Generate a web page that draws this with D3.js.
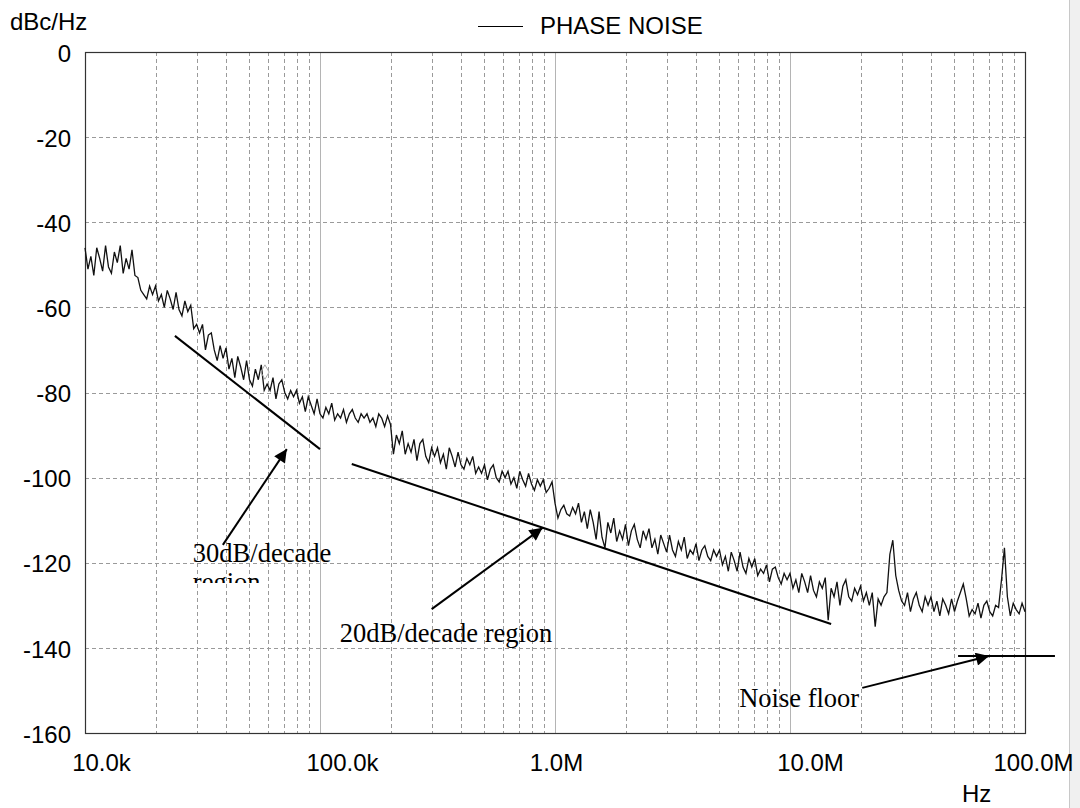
<!DOCTYPE html>
<html>
<head>
<meta charset="utf-8">
<script src="https://cdn.jsdelivr.net/npm/d3@7"></script>
<style>
  body { margin: 0; background: #fff; }
  svg { display: block; }
</style>
</head>
<body>
<div id="chart"></div>
<script>

// chart size and plot box
const width = 1080;
const height = 808;
const margin = {left: 85, right: 54, top: 52, bottom: 75};

// axis ticks
const xTicks = [1e4, 1e5, 1e6, 1e7, 1e8];
const xTickLabels = ["10.0k", "100.0k", "1.0M", "10.0M", "100.0M"];
const yTicks = [0, -20, -40, -60, -80, -100, -120, -140, -160];

// phase noise trace, dBc/Hz, 80 samples per decade starting at 10 kHz
const pointsPerDecade = 80;
const noiseDb = [
  -46, -51, -48, -52.5, -46, -48.5, -51.5, -45.5, -50.5, -52,
  -47, -49.5, -45.5, -52, -48.5, -51, -46.5, -52.5, -53, -56,
  -57, -58, -55, -57, -55, -58.5, -57, -60, -56, -58,
  -60.5, -56.5, -60.5, -62, -58.5, -61, -59.5, -65, -64, -66,
  -64, -70, -66.5, -66, -70, -72.5, -69, -72, -69.5, -74.5,
  -72, -76.5, -71.5, -74, -77, -72.5, -77, -78.5, -74.5, -77,
  -73.5, -79.5, -78, -79.5, -76.5, -81.5, -78, -77, -80, -81.5,
  -79.5, -81, -79.5, -82.5, -81, -84.5, -81, -83, -85, -81.5,
  -85, -86, -83.5, -85, -82.5, -86.5, -85, -86, -84, -87,
  -85, -84, -86, -87, -85, -86, -85, -87, -86, -88,
  -85, -86, -88, -85.5, -87.5, -94.5, -90, -92, -89, -94.5,
  -92, -94, -91, -96, -92, -91, -95, -96.5, -93, -95,
  -93, -96.5, -94.5, -98, -93, -95, -97.5, -94, -97, -98,
  -95.5, -97, -95, -99, -97.5, -99, -97, -100.5, -98, -97,
  -100, -101, -98.5, -100, -98.5, -101.5, -100, -102.5, -98.5, -100.5,
  -102, -99, -101.5, -103, -100.5, -102, -100.5, -103.5, -102.5, -101,
  -106, -109.5, -107.5, -106.5, -108.5, -109, -107, -108.5, -106, -110.5,
  -108, -112, -107.5, -110.5, -114.5, -108, -114, -116.5, -110.5, -113,
  -109.5, -115, -112.5, -114.5, -111, -116, -112.5, -111, -114.5, -116.5,
  -112.5, -114.5, -112, -116.5, -114.5, -118, -113.5, -115.5, -117.5, -113.5,
  -117, -118.5, -115, -117, -114, -119, -117, -118, -115.5, -119.5,
  -117, -116, -118.5, -119.5, -117, -118.5, -117, -120.5, -118.5, -122,
  -117.5, -119.5, -122, -117.5, -121, -122.5, -119, -121, -119, -123,
  -121.5, -122.5, -120.5, -124.5, -121.5, -121, -123.5, -125, -122.5, -124,
  -122.5, -126, -124, -127, -122.5, -124.5, -127, -123, -126.5, -128,
  -124.5, -126, -123.5, -133.5, -126, -128, -124.5, -130, -125.5, -124,
  -128, -129, -126, -127.5, -125.5, -129, -127, -130, -127, -135,
  -128.5, -130, -128, -127, -118, -114.7, -123, -126.5, -129, -130,
  -127, -131.5, -128.5, -127, -130, -131.5, -128, -130, -128, -131.5,
  -129, -132.5, -128.5, -130, -132, -128.5, -131.5, -129, -127, -125,
  -128.5, -132.5, -131, -132, -129.5, -133, -130, -129, -131.5, -132.5,
  -130, -130.5, -124, -116.5, -128, -132.5, -129.5, -131, -132, -129.5,
  -131.5
];

// trace marker (small diamond on the curve)
const markerPoint = {f: 58300, db: -75.2};

// annotation slope lines [f1, db1, f2, db2]
const slopeLines = [
  [24130, -66.7, 1e5, -93.3],
  [136500, -96.8, 14.96e6, -134.4],
  [51.9e6, -141.9, 134.1e6, -141.9]
];

// annotation arrows, tail -> tip
const arrows = [
  [38600, -115.8, 72230, -93.3],
  [298600, -130.9, 885000, -111.8],
  [20.3e6, -149.4, 70.3e6, -141.9]
];

// annotation labels
const notes = [
  {text: "30dB/decade", f: 28770, db: -119.8},
  {text: "region", f: 28770, db: -126.6, clip: true},
  {text: "20dB/decade region", f: 121300, db: -138.6},
  {text: "Noise floor", f: 6.08e6, db: -153.9}
];

const svg = d3
  .select("#chart")
  .append("svg")
  .attr("width", width)
  .attr("height", height);

let xScale = d3.scaleLog()
  .domain([1e4, 1e8])
  .range([margin.left, width - margin.right - 1]);

let yScale = d3.scaleLinear()
  .domain([-160, 0])
  .range([height - margin.bottom, margin.top]);

const x0 = xScale.range()[0], x1 = xScale.range()[1];
const y0 = yScale.range()[1], y1 = yScale.range()[0];

// grey strip at the right of the window
svg.append("rect")
  .attr("x", 1069).attr("y", 0)
  .attr("width", 11).attr("height", height)
  .attr("fill", "#f0f0f0");
svg.append("line")
  .attr("x1", 1069.5).attr("x2", 1069.5)
  .attr("y1", 0).attr("y2", height)
  .attr("stroke", "#c8c8c8");

/*
  Grid
*/

// minor decade lines 2..9, dashed
let minor = [];
for (let d = 1e4; d < 1e8; d *= 10) {
  for (let k = 2; k <= 9; k++) minor.push(d * k);
}
svg.append("g")
  .selectAll("line")
  .data(minor)
  .enter()
  .append("line")
    .attr("x1", d => Math.round(xScale(d)) + 0.5)
    .attr("x2", d => Math.round(xScale(d)) + 0.5)
    .attr("y1", y0).attr("y2", y1)
    .attr("stroke", "#9a9a9a")
    .attr("stroke-dasharray", "4,3");

// decade lines, solid light grey
svg.append("g")
  .selectAll("line")
  .data(xTicks.slice(1, -1))
  .enter()
  .append("line")
    .attr("x1", d => Math.round(xScale(d)) + 0.5)
    .attr("x2", d => Math.round(xScale(d)) + 0.5)
    .attr("y1", y0).attr("y2", y1)
    .attr("stroke", "#b4b4b4");

// horizontal dB lines, dashed
svg.append("g")
  .selectAll("line")
  .data(yTicks.slice(1, -1))
  .enter()
  .append("line")
    .attr("x1", x0).attr("x2", x1)
    .attr("y1", d => Math.round(yScale(d)) + 0.5)
    .attr("y2", d => Math.round(yScale(d)) + 0.5)
    .attr("stroke", "#9a9a9a")
    .attr("stroke-dasharray", "4,3");

// plot frame
svg.append("rect")
  .attr("x", x0 + 0.5).attr("y", y0 + 0.5)
  .attr("width", x1 - x0).attr("height", y1 - y0)
  .attr("fill", "none")
  .attr("stroke", "#333")
  .attr("stroke-width", 1.2);

/*
  Axes
*/

const sans = "Liberation Sans, Arial, sans-serif";

const yAxis = svg.append("g")
  .attr("transform", `translate(${margin.left}, 0)`)
  .call(d3.axisLeft(yScale).tickValues(yTicks)
          .tickFormat(d => String(d))
          .tickSize(0).tickPadding(14));
yAxis.select(".domain").remove();
yAxis.selectAll("text")
  .attr("font-family", sans)
  .attr("font-size", "24px")
  .attr("fill", "#000")
  .attr("dy", "0.38em");

// labels sit a little right of their decade lines in the original
const xLabelShift = [16, 22, 1, 20, 8];
const xAxis = svg.append("g")
  .attr("transform", `translate(0, ${height - margin.bottom})`)
  .call(d3.axisBottom(xScale).tickValues(xTicks)
          .tickFormat((d, i) => xTickLabels[i])
          .tickSize(0).tickPadding(21));
xAxis.select(".domain").remove();
xAxis.selectAll("text")
  .attr("font-family", sans)
  .attr("font-size", "24px")
  .attr("fill", "#000")
  .attr("dx", (d, i) => xLabelShift[i]);

svg.append("text")
  .attr("x", 10).attr("y", 30)
  .attr("font-family", sans).attr("font-size", "24px")
  .text("dBc/Hz");

svg.append("text")
  .attr("x", 962).attr("y", 802)
  .attr("font-family", sans).attr("font-size", "24px")
  .text("Hz");

// legend
svg.append("line")
  .attr("x1", 478).attr("x2", 523)
  .attr("y1", 26.5).attr("y2", 26.5)
  .attr("stroke", "#000");
svg.append("text")
  .attr("x", 540).attr("y", 34)
  .attr("font-family", sans).attr("font-size", "24px")
  .text("PHASE NOISE");

/*
  Trace
*/

const line = d3.line()
  .x((d, i) => xScale(1e4 * Math.pow(10, i / pointsPerDecade)))
  .y(d => yScale(d));

svg.append("path")
  .datum(noiseDb)
  .attr("d", line)
  .attr("fill", "none")
  .attr("stroke", "#111")
  .attr("stroke-width", 1.3);

svg.append("path")
  .attr("d", d3.symbol(d3.symbolDiamond, 60)())
  .attr("transform", `translate(${xScale(markerPoint.f)}, ${yScale(markerPoint.db)})`)
  .attr("fill", "none")
  .attr("stroke", "#aaa");

/*
  Annotations
*/

svg.append("defs")
  .append("marker")
    .attr("id", "head")
    .attr("viewBox", "0 0 10 10")
    .attr("refX", 10).attr("refY", 5)
    .attr("markerWidth", 9).attr("markerHeight", 6.5)
    .attr("markerUnits", "strokeWidth")
    .attr("orient", "auto")
  .append("path")
    .attr("d", "M0,0 L10,5 L0,10 Z")
    .attr("fill", "#000");

svg.append("clipPath")
  .attr("id", "cut")
  .append("rect")
    .attr("x", 0).attr("y", 0)
    .attr("width", width).attr("height", 583);

svg.append("g")
  .selectAll("line")
  .data(slopeLines)
  .enter()
  .append("line")
    .attr("x1", d => xScale(d[0])).attr("y1", d => yScale(d[1]))
    .attr("x2", d => xScale(d[2])).attr("y2", d => yScale(d[3]))
    .attr("stroke", "#000")
    .attr("stroke-width", 2);

svg.append("g")
  .selectAll("line")
  .data(arrows)
  .enter()
  .append("line")
    .attr("x1", d => xScale(d[0])).attr("y1", d => yScale(d[1]))
    .attr("x2", d => xScale(d[2])).attr("y2", d => yScale(d[3]))
    .attr("stroke", "#000")
    .attr("stroke-width", 2)
    .attr("marker-end", "url(#head)");

svg.append("g")
  .selectAll("text")
  .data(notes)
  .enter()
  .append("text")
    .attr("x", d => xScale(d.f))
    .attr("y", d => yScale(d.db))
    .attr("font-family", "Liberation Serif, Times New Roman, serif")
    .attr("font-size", "26.5px")
    .attr("clip-path", d => d.clip ? "url(#cut)" : null)
    .text(d => d.text);

</script>
</body>
</html>
